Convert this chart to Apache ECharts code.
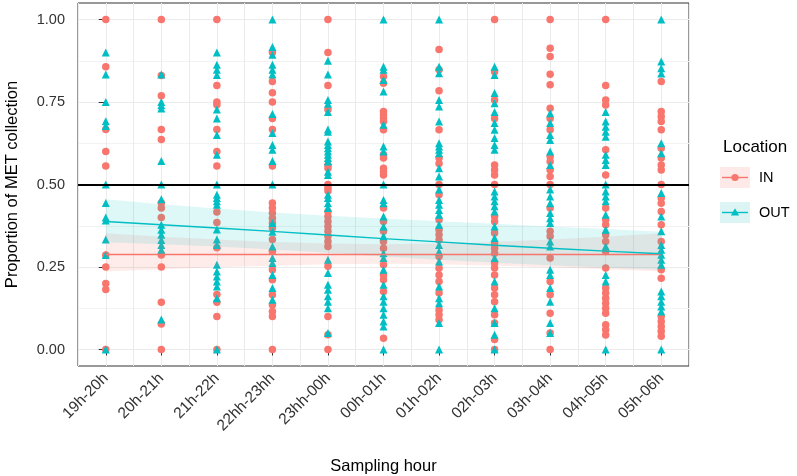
<!DOCTYPE html>
<html><head><meta charset="utf-8">
<script src="https://cdn.jsdelivr.net/npm/echarts@6/dist/echarts.min.js"></script>
<style>html,body{margin:0;padding:0;background:#fff}#c{width:797px;height:476px}</style>
</head><body><div id="c"></div>
<script>
const hours = ['19h-20h','20h-21h','21h-22h','22hh-23hh','23hh-00h','00h-01h','01h-02h','02h-03h','03h-04h','04h-05h','05h-06h'];
const yTicks = [0, 0.25, 0.5, 0.75, 1];
const yMinor = [0.125, 0.375, 0.625, 0.875];

const inByHour = [
  [1.0, 0.857, 0.667, 0.6, 0.556, 0.286, 0.25, 0.2, 0.182, 0],
  [1.0, 0.83, 0.769, 0.667, 0.636, 0.444, 0.429, 0.4, 0.286, 0.25, 0.143, 0.077, 0],
  [1.0, 0.8, 0.75, 0.742, 0.667, 0.6, 0.556, 0.417, 0.385, 0.308, 0.167, 0.143, 0.1, 0],
  [0.9, 0.812, 0.778, 0.75, 0.7, 0.667, 0.556, 0.444, 0.429, 0.414, 0.398, 0.383, 0.368, 0.333, 0.297, 0.242, 0.211, 0.166, 0.135, 0.115, 0.1, 0],
  [1.0, 0.9, 0.8, 0.727, 0.559, 0.549, 0.5, 0.49, 0.48, 0.418, 0.403, 0.388, 0.373, 0.358, 0.343, 0.327, 0.312, 0.252, 0.1, 0.045, 0],
  [0.827, 0.807, 0.721, 0.711, 0.701, 0.691, 0.666, 0.59, 0.58, 0.549, 0.539, 0.529, 0.429, 0.388, 0.358, 0.327, 0.307, 0.257, 0.226, 0.211, 0.176, 0.034],
  [0.909, 0.848, 0.784, 0.666, 0.58, 0.564, 0.5, 0.469, 0.393, 0.363, 0.348, 0.332, 0.282, 0.246, 0.226, 0.206, 0.171, 0.12, 0.105, 0.09],
  [1.0, 0.842, 0.756, 0.7, 0.559, 0.544, 0.529, 0.5, 0.403, 0.388, 0.353, 0.322, 0.307, 0.292, 0.262, 0.247, 0.226, 0.186, 0.166, 0.145, 0.105, 0.08, 0.03, 0],
  [1.0, 0.913, 0.888, 0.834, 0.802, 0.731, 0.7, 0.666, 0.585, 0.57, 0.544, 0.524, 0.5, 0.429, 0.358, 0.343, 0.277, 0.206, 0.166, 0.11, 0.05, 0],
  [1.0, 0.8, 0.756, 0.741, 0.605, 0.529, 0.429, 0.393, 0.378, 0.348, 0.327, 0.297, 0.247, 0.186, 0.171, 0.155, 0.14, 0.125, 0.11, 0.075, 0.06, 0.044],
  [0.812, 0.721, 0.706, 0.691, 0.666, 0.61, 0.58, 0.559, 0.544, 0.5, 0.459, 0.443, 0.418, 0.378, 0.327, 0.242, 0.216, 0.1, 0.085, 0.07, 0.055, 0.04]
];
const outByHour = [
  [0.9, 0.833, 0.75, 0.692, 0.677, 0.5, 0.444, 0.4, 0.391, 0.333, 0.286, 0],
  [0.833, 0.75, 0.74, 0.73, 0.571, 0.5, 0.455, 0.378, 0.363, 0.348, 0.332, 0.317, 0.302, 0.091],
  [0.9, 0.863, 0.848, 0.832, 0.727, 0.7, 0.65, 0.59, 0.5, 0.469, 0.459, 0.449, 0.439, 0.364, 0.333, 0.317, 0.257, 0.236, 0.221, 0.206, 0.191, 0.155, 0],
  [1.0, 0.917, 0.893, 0.863, 0.848, 0.833, 0.714, 0.656, 0.62, 0.605, 0.571, 0.5, 0.383, 0.357, 0.312, 0.277, 0.262, 0.226, 0.186, 0.151],
  [0.875, 0.833, 0.756, 0.745, 0.72, 0.667, 0.66, 0.63, 0.62, 0.61, 0.6, 0.59, 0.58, 0.57, 0.539, 0.529, 0.469, 0.459, 0.443, 0.429, 0.272, 0.232, 0.196, 0.181, 0.161, 0.145, 0.125, 0.05],
  [1.0, 0.857, 0.848, 0.817, 0.782, 0.681, 0.615, 0.6, 0.5, 0.453, 0.443, 0.403, 0.373, 0.343, 0.292, 0.277, 0.242, 0.196, 0.161, 0.145, 0.125, 0.105, 0.085, 0.07, 0],
  [1.0, 0.857, 0.837, 0.756, 0.736, 0.691, 0.625, 0.615, 0.605, 0.595, 0.549, 0.524, 0.485, 0.453, 0.439, 0.423, 0.408, 0.378, 0.317, 0.297, 0.267, 0.191, 0.155, 0.14, 0.08, 0],
  [0.857, 0.832, 0.777, 0.746, 0.72, 0.686, 0.666, 0.641, 0.62, 0.605, 0.479, 0.464, 0.449, 0.434, 0.418, 0.373, 0.338, 0.277, 0.206, 0.125, 0.08, 0.045, 0],
  [0.716, 0.686, 0.65, 0.635, 0.6, 0.559, 0.485, 0.464, 0.443, 0.414, 0.398, 0.383, 0.327, 0.312, 0.242, 0.226, 0.186, 0.145, 0.08, 0.05],
  [0.72, 0.691, 0.675, 0.66, 0.645, 0.59, 0.574, 0.559, 0.5, 0.479, 0.464, 0.449, 0.408, 0.363, 0.312, 0.226, 0.206, 0],
  [1.0, 0.873, 0.852, 0.836, 0.625, 0.595, 0.474, 0.403, 0.358, 0.317, 0.302, 0.287, 0.272, 0.257, 0.176, 0.161, 0.145, 0.13, 0.115, 0]
];

const inFit   = [0.288, 0.288, 0.288, 0.288, 0.288, 0.288, 0.288, 0.288, 0.288, 0.288, 0.288];
const inLower = [0.236, 0.243, 0.249, 0.254, 0.258, 0.26, 0.258, 0.254, 0.249, 0.243, 0.236];
const inUpper = [0.352, 0.342, 0.333, 0.326, 0.321, 0.319, 0.321, 0.326, 0.333, 0.342, 0.352];
const outFit   = [0.388, 0.378, 0.368, 0.358, 0.347, 0.336, 0.326, 0.316, 0.307, 0.298, 0.290];
const outUpper = [0.455, 0.440, 0.427, 0.415, 0.405, 0.397, 0.389, 0.381, 0.373, 0.365, 0.357];
const outLower = [0.325, 0.319, 0.312, 0.303, 0.293, 0.282, 0.272, 0.263, 0.255, 0.248, 0.242];
const refLine = 0.5;

const RED = '#F8766D', CYAN = '#00BFC4';
function pts(byHour){ const r=[]; byHour.forEach((vals,i)=>vals.forEach(v=>r.push([i,v]))); return r; }
function diff(a,b){ return a.map((v,i)=>+(v-b[i]).toFixed(4)); }
function keyIcon(color,bg,shape){
  const mark = shape==='circle'
    ? `<circle cx='15' cy='10.5' r='3.6' fill='${color}'/>`
    : `<path d='M15 6.3 L19.2 13.6 L10.8 13.6 Z' fill='${color}'/>`;
  const svg = `<svg xmlns='http://www.w3.org/2000/svg' width='30' height='21'><rect width='30' height='21' fill='${bg}'/><line x1='2' y1='10.5' x2='28' y2='10.5' stroke='${color}' stroke-width='1.4'/>${mark}</svg>`;
  return 'image://data:image/svg+xml;charset=utf-8,' + encodeURIComponent(svg);
}

const chart = echarts.init(document.getElementById('c'), null, {renderer:'canvas'});
const FONT = 'Liberation Sans, Arial, sans-serif';
chart.setOption({
  animation:false,
  backgroundColor:'#fff',
  textStyle:{fontFamily:FONT},
  title:{text:'Location', left:723, top:139, padding:0, textStyle:{fontFamily:FONT, fontSize:17, fontWeight:'normal', color:'#000'}},
  legend:{
    orient:'vertical', left:720, top:167, itemWidth:30, itemHeight:21, itemGap:14, padding:0,
    textStyle:{fontFamily:FONT, fontSize:14.5, color:'#000', padding:[0,0,0,4]},
    data:[{name:'IN', icon:keyIcon(RED,'#FDE9E7','circle')},{name:'OUT', icon:keyIcon(CYAN,'#DDF4F5','tri')}]
  },
  grid:{left:78, right:108, top:3, bottom:110, outerBoundsMode:'none', containLabel:false, show:true, borderColor:'#333', borderWidth:1, backgroundColor:'#fff'},
  xAxis:[
    {type:'category', data:hours, boundaryGap:true,
     axisLine:{show:false}, axisTick:{show:true, alignWithLabel:true, length:6, lineStyle:{color:'#333'}},
     axisLabel:{rotate:45, fontSize:15.5, color:'#333', margin:10, fontFamily:FONT},
     splitLine:{show:false},
     name:'Sampling hour', nameLocation:'middle', nameGap:92, nameTextStyle:{fontSize:16.5, color:'#000', fontFamily:FONT}},
    {type:'value', min:-0.5, max:10.5, interval:0.5, show:true,
     axisLine:{show:false}, axisTick:{show:false}, axisLabel:{show:false},
     splitLine:{show:true, lineStyle:{color:'#EBEBEB', width:1}}}
  ],
  yAxis:[
    {type:'value', min:-0.05, max:1.05,
     axisLine:{show:false},
     axisTick:{show:true, length:7, customValues:yTicks, lineStyle:{color:'#333'}},
     axisLabel:{customValues:yTicks, fontSize:14.5, color:'#333', margin:13, fontFamily:FONT, formatter:v=>v.toFixed(2)},
     splitLine:{show:true, customValues:yTicks, lineStyle:{color:'#EBEBEB', width:1.2}},
     name:'Proportion of MET collection', nameLocation:'middle', nameGap:57, nameTextStyle:{fontSize:16.5, color:'#000', fontFamily:FONT}},
    {type:'value', min:-0.05, max:1.05, show:true,
     axisLine:{show:false}, axisTick:{show:false, customValues:yMinor}, axisLabel:{show:false, customValues:yMinor},
     splitLine:{show:true, customValues:yMinor, lineStyle:{color:'#F2F2F2', width:1}}}
  ],
  series:[
    {name:'ref', type:'line', data:[], z:1, silent:true,
     markLine:{silent:true, symbol:'none', label:{show:false}, lineStyle:{color:'#000', width:2.2, type:'solid'}, data:[{yAxis:refLine}]}},
    {name:'IN', type:'scatter', symbol:'circle', symbolSize:7.5, itemStyle:{color:RED, opacity:1}, data:pts(inByHour), z:2},
    {name:'OUT', type:'scatter', symbol:'triangle', symbolSize:8, itemStyle:{color:CYAN, opacity:1}, data:pts(outByHour), z:3},
    {name:'inBase', type:'line', stack:'inb', data:inLower, symbol:'none', lineStyle:{opacity:0}, z:4, silent:true},
    {name:'inBand', type:'line', stack:'inb', data:diff(inUpper,inLower), symbol:'none', lineStyle:{opacity:0}, areaStyle:{color:RED, opacity:0.14}, z:4, silent:true},
    {name:'outBase', type:'line', stack:'outb', data:outLower, symbol:'none', lineStyle:{opacity:0}, z:4, silent:true},
    {name:'outBand', type:'line', stack:'outb', data:diff(outUpper,outLower), symbol:'none', lineStyle:{opacity:0}, areaStyle:{color:CYAN, opacity:0.13}, z:4, silent:true},
    {name:'inFit', type:'line', data:inFit, symbol:'none', lineStyle:{color:RED, width:1.4}, z:5, silent:true},
    {name:'outFit', type:'line', data:outFit, symbol:'none', lineStyle:{color:CYAN, width:1.4}, z:5, silent:true}
  ]
});
</script></body></html>
